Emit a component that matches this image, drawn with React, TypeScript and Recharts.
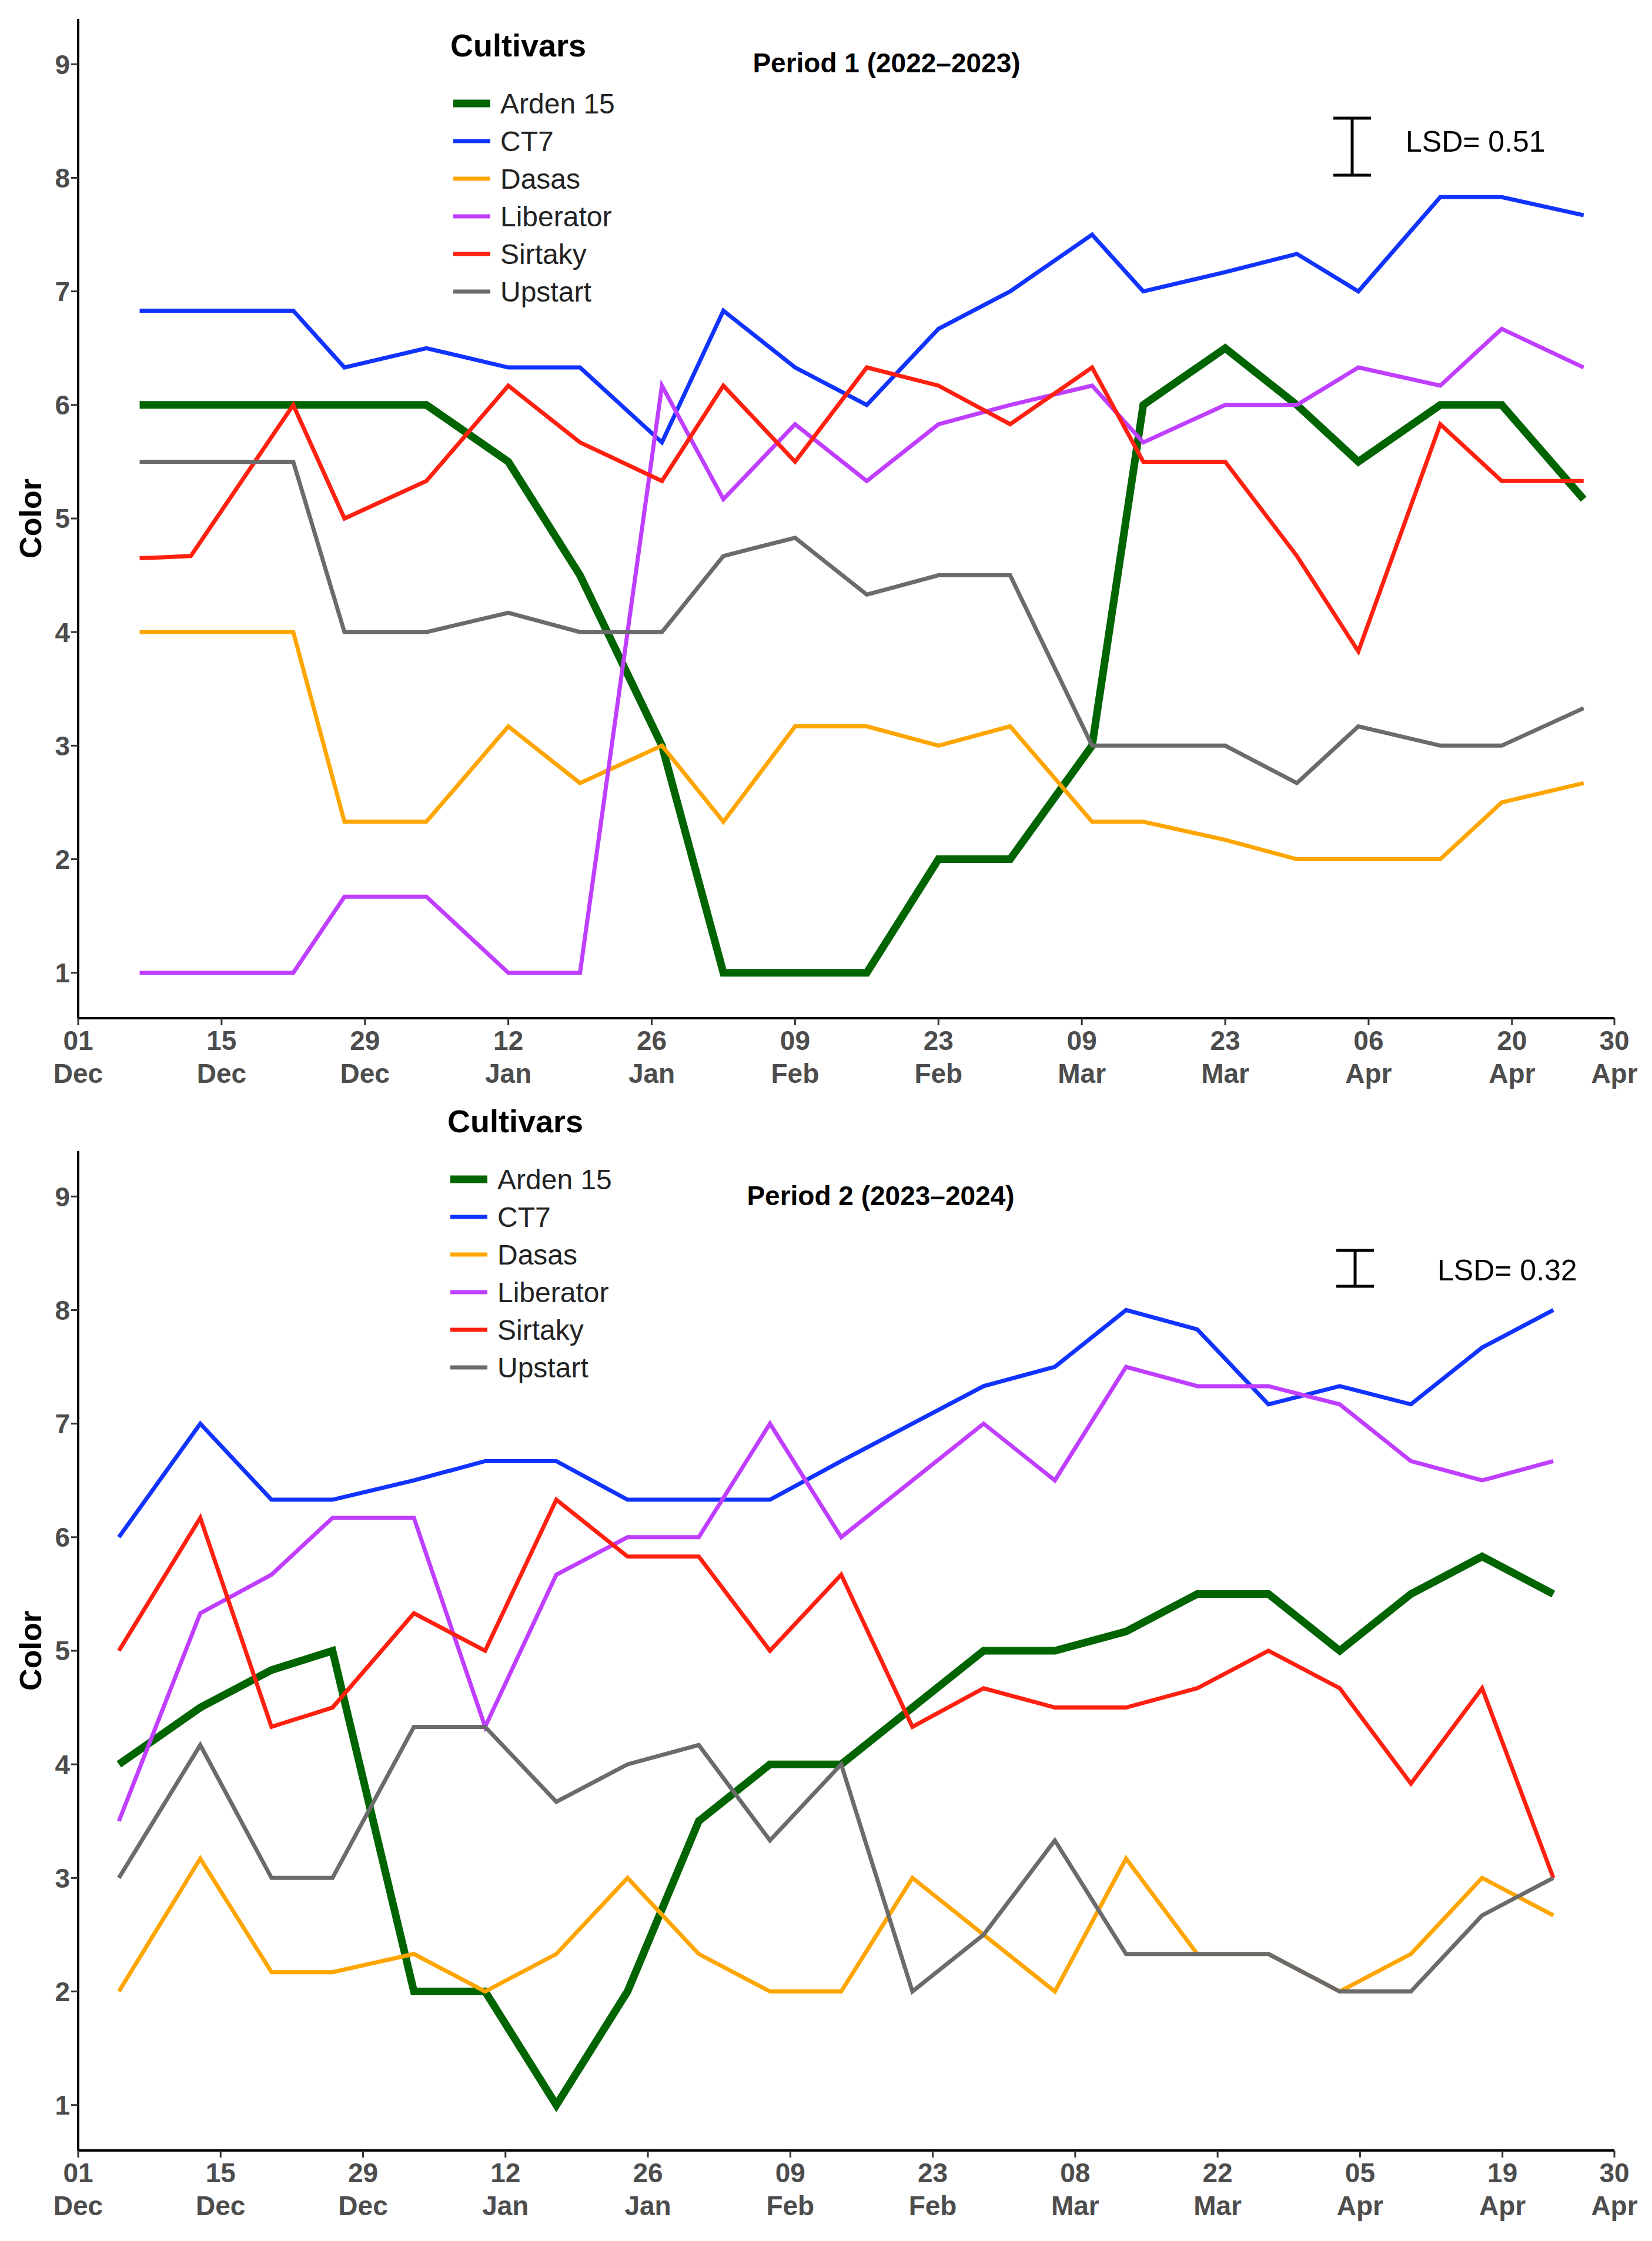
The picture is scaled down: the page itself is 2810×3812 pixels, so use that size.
import React from "react";
import { LineChart, Line, XAxis, YAxis } from "recharts";

const days1 = [6, 11, 21, 26, 34, 42, 49, 57, 63, 70, 77, 84, 91, 99, 104, 112, 119, 125, 133, 139, 147];
const arden1 = [6, null, 6, 6, 6, 5.5, 4.5, 3, 1, 1, 1, 2, 2, 3, 6, 6.5, 6, 5.5, 6, 6, 5.17];
const ct7_1 = [6.83, null, 6.83, 6.33, 6.5, 6.33, 6.33, 5.67, 6.83, 6.33, 6.0, 6.67, 7.0, 7.5, 7.0, 7.17, 7.33, 7.0, 7.83, 7.83, 7.67];
const dasas1 = [4, null, 4, 2.33, 2.33, 3.17, 2.67, 3.0, 2.33, 3.17, 3.17, 3.0, 3.17, 2.33, 2.33, 2.17, 2.0, 2.0, 2.0, 2.5, 2.67];
const liberator1 = [1, null, 1, 1.67, 1.67, 1, 1, 6.17, 5.17, 5.83, 5.33, 5.83, 6.0, 6.17, 5.67, 6.0, 6.0, 6.33, 6.17, 6.67, 6.33];
const sirtaky1 = [4.65, 4.67, 6, 5, 5.33, 6.17, 5.67, 5.33, 6.17, 5.5, 6.33, 6.17, 5.83, 6.33, 5.5, 5.5, 4.67, 3.83, 5.83, 5.33, 5.33];
const upstart1 = [5.5, null, 5.5, 4, 4, 4.17, 4, 4, 4.67, 4.83, 4.33, 4.5, 4.5, 3, 3, 3, 2.67, 3.17, 3, 3, 3.33];

const days2 = [4, 12, 19, 25, 33, 40, 47, 54, 61, 68, 75, 82, 89, 96, 103, 110, 117, 124, 131, 138, 145];
const arden2 = [4.0, 4.5, 4.83, 5.0, 2.0, 2.0, 1.0, 2.0, 3.5, 4.0, 4.0, 4.5, 5.0, 5.0, 5.17, 5.5, 5.5, 5.0, 5.5, 5.83, 5.5];
const ct7_2 = [6.0, 7.0, 6.33, 6.33, 6.5, 6.67, 6.67, 6.33, 6.33, 6.33, 6.67, 7.0, 7.33, 7.5, 8.0, 7.83, 7.17, 7.33, 7.17, 7.67, 8.0];
const dasas2 = [2.0, 3.17, 2.17, 2.17, 2.33, 2.0, 2.33, 3.0, 2.33, 2.0, 2.0, 3.0, 2.5, 2.0, 3.17, 2.33, 2.33, 2.0, 2.33, 3.0, 2.67];
const liberator2 = [3.5, 5.33, 5.67, 6.17, 6.17, 4.33, 5.67, 6.0, 6.0, 7.0, 6.0, 6.5, 7.0, 6.5, 7.5, 7.33, 7.33, 7.17, 6.67, 6.5, 6.67];
const sirtaky2 = [5.0, 6.17, 4.33, 4.5, 5.33, 5.0, 6.33, 5.83, 5.83, 5.0, 5.67, 4.33, 4.67, 4.5, 4.5, 4.67, 5.0, 4.67, 3.83, 4.67, 3.0];
const upstart2 = [3.0, 4.17, 3.0, 3.0, 4.33, 4.33, 3.67, 4.0, 4.17, 3.33, 4.0, 2.0, 2.5, 3.33, 2.33, 2.33, 2.33, 2.0, 2.0, 2.67, 3.0];

const ticks1 = [0, 14, 28, 42, 56, 70, 84, 98, 112, 126, 140, 150];
const tickLabels1 = ["01|Dec", "15|Dec", "29|Dec", "12|Jan", "26|Jan", "09|Feb", "23|Feb", "09|Mar", "23|Mar", "06|Apr", "20|Apr", "30|Apr"];
const ticks2 = [0, 14, 28, 42, 56, 70, 84, 98, 112, 126, 140, 151];
const tickLabels2 = ["01|Dec", "15|Dec", "29|Dec", "12|Jan", "26|Jan", "09|Feb", "23|Feb", "08|Mar", "22|Mar", "05|Apr", "19|Apr", "30|Apr"];
const yTicks = [1, 2, 3, 4, 5, 6, 7, 8, 9];

const names = ["Arden 15", "CT7", "Dasas", "Liberator", "Sirtaky", "Upstart"];
const keys = ["arden", "ct7", "dasas", "liberator", "sirtaky", "upstart"];
const colors = ["#006400", "#1133ff", "#ffa500", "#bf3eff", "#ff2010", "#6b6b6b"];
const widths = [13, 7, 7, 7, 7, 7];

function build(days: number[], series: (number | null)[][]) {
  return days.map((d, i) => {
    const r: any = { day: d };
    keys.forEach((k, j) => (r[k] = series[j][i]));
    return r;
  });
}
const data1 = build(days1, [arden1, ct7_1, dasas1, liberator1, sirtaky1, upstart1]);
const data2 = build(days2, [arden2, ct7_2, dasas2, liberator2, sirtaky2, upstart2]);

const makeTick = (ticks: number[], labels: string[]) => (props: any) => {
  const { x, y, payload } = props;
  const idx = ticks.indexOf(payload.value);
  const [a, b] = (labels[idx] || "").split("|");
  return (
    <g>
      <text x={x} y={y + 40} textAnchor="middle" fontSize={46} fontWeight="bold" fill="#4d4d4d" fontFamily="Liberation Sans, Arial">{a}</text>
      <text x={x} y={y + 96} textAnchor="middle" fontSize={46} fontWeight="bold" fill="#4d4d4d" fontFamily="Liberation Sans, Arial">{b}</text>
    </g>
  );
};

function Panel({ data, ticks, labels, maxDay, title, lsd, top, leg, lsdBar }: any) {
  const font = "Liberation Sans, Arial";
  return (
    <div style={{ position: "absolute", left: 0, top, width: 2794, height: 1880 }}>
      <LineChart width={2794} height={1880} data={data} margin={{ top: 24, right: 56, bottom: 30, left: 0 }}>
        <XAxis dataKey="day" type="number" domain={[0, maxDay]} ticks={ticks} interval={0}
          tick={makeTick(ticks, labels)} axisLine={{ stroke: "#000", strokeWidth: 4 }}
          tickLine={{ stroke: "#333", strokeWidth: 3 }} tickSize={12} height={126} />
        <YAxis type="number" domain={[0.6, 9.4]} ticks={yTicks} width={125}
          tick={{ fontSize: 46, fontWeight: "bold", fill: "#4d4d4d", fontFamily: font }}
          axisLine={{ stroke: "#000", strokeWidth: 4 }} tickLine={{ stroke: "#333", strokeWidth: 3 }} tickSize={12}
          label={{ value: "Color", angle: -90, position: "insideLeft", offset: 44, style: { fontSize: 52, fontWeight: "bold", fill: "#000", fontFamily: font, textAnchor: "middle" } }} />
        {keys.map((k, i) => (
          <Line key={k} dataKey={k} stroke={colors[i]} strokeWidth={widths[i]} dot={false} connectNulls isAnimationActive={false} />
        ))}
      </LineChart>
      <svg width={2794} height={1880} style={{ position: "absolute", left: 0, top: 0, pointerEvents: "none", overflow: "visible" }}>
        <text x={leg.x} y={leg.y} fontSize={54} fontWeight="bold" fontFamily={font}>Cultivars</text>
        {names.map((n, i) => (
          <g key={n}>
            <line x1={leg.x + 5} x2={leg.x + 68} y1={leg.y + 80 + i * 64} y2={leg.y + 80 + i * 64} stroke={colors[i]} strokeWidth={widths[i]} />
            <text x={leg.x + 85} y={leg.y + 97 + i * 64} fontSize={48} fontFamily={font} fill="#222">{n}</text>
          </g>
        ))}
        <text x={title.x} y={title.y} fontSize={46} fontWeight="bold" fontFamily={font} textAnchor="middle">{title.text}</text>
        <line x1={lsdBar.x} x2={lsdBar.x} y1={lsdBar.y1} y2={lsdBar.y2} stroke="#000" strokeWidth={5} />
        <line x1={lsdBar.x - 32} x2={lsdBar.x + 32} y1={lsdBar.y1} y2={lsdBar.y1} stroke="#000" strokeWidth={5} />
        <line x1={lsdBar.x - 32} x2={lsdBar.x + 32} y1={lsdBar.y2} y2={lsdBar.y2} stroke="#000" strokeWidth={5} />
        <text x={lsd.x} y={lsd.y} fontSize={50} fontFamily={font}>{lsd.text}</text>
      </svg>
    </div>
  );
}

export default function App() {
  return (
    <div style={{ position: "relative", width: 2794, height: 3800 }}>
      <Panel data={data1} ticks={ticks1} labels={tickLabels1} maxDay={150} top={0}
        leg={{ x: 758, y: 88 }}
        title={{ x: 1500, y: 115, text: "Period 1 (2022–2023)" }}
        lsdBar={{ x: 2292, y1: 193, y2: 290 }}
        lsd={{ x: 2383, y: 250, text: "LSD= 0.51" }} />
      <Panel data={data2} ticks={ticks2} labels={tickLabels2} maxDay={151} top={1926}
        leg={{ x: 753, y: -8 }}
        title={{ x: 1490, y: 2042 - 1926, text: "Period 2 (2023–2024)" }}
        lsdBar={{ x: 2297, y1: 2119 - 1926, y2: 2180 - 1926 }}
        lsd={{ x: 2437, y: 2170 - 1926, text: "LSD= 0.32" }} />
    </div>
  );
}
